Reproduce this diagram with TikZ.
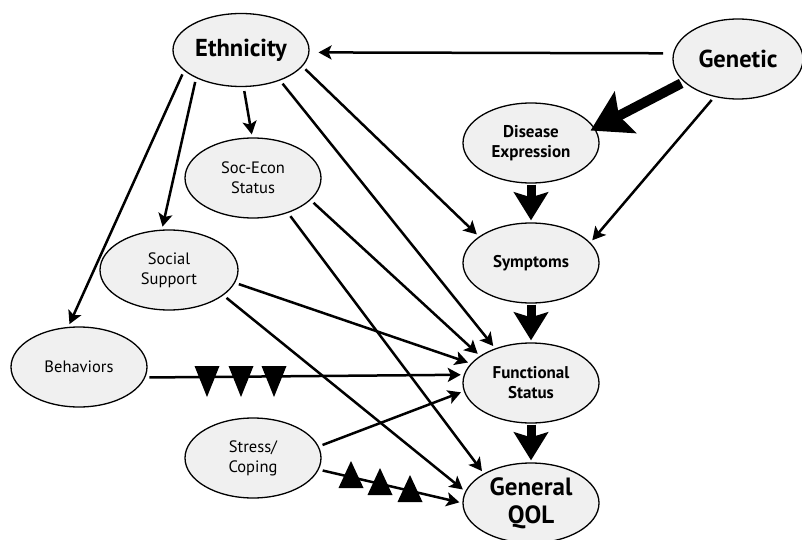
\documentclass[tikz,border=0pt]{standalone}
\usepackage{fontspec}
\setmainfont{PT Sans}
\usetikzlibrary{shapes.geometric,arrows.meta}
\begin{document}
\begin{tikzpicture}[x=1pt,y=-1pt,
  box/.style={ellipse, draw, line width=1.3pt, fill=black!6, minimum width=136pt,
    minimum height=80pt, inner sep=0pt, align=center},
  big/.style={font=\fontsize{24.5}{26}\selectfont\bfseries},
  mid/.style={font=\fontsize{17}{20}\selectfont\bfseries},
  reg/.style={font=\fontsize{16.5}{20}\selectfont},
  thinarr/.style={line width=2.5pt, -{Stealth[length=13pt,width=14pt,inset=3pt]},
    shorten <=4pt, shorten >=3pt},
  thickarr/.style={line width=9pt, -{Stealth[length=28pt,width=34pt,inset=5pt]},
    shorten <=1pt, shorten >=2pt},
  hugearr/.style={line width=10pt, -{Stealth[length=39pt,width=46pt,inset=7pt]},
    shorten <=3pt, shorten >=-5pt},
  tri/.style={fill=black}]
\useasboundingbox (0,0) rectangle (802,540);
% nodes
\node[box, big, minimum height=73pt] (E) at (241,50) {Ethnicity};
\node[box, big, minimum width=130pt] (G) at (738,59) {Genetic};
\node[box, mid] (D) at (531,143) {Disease\\Expression};
\node[box, mid] (S) at (531,263) {Symptoms};
\node[box, mid] (F) at (531,383) {Functional\\Status};
\node[box, font=\fontsize{25}{28}\selectfont\bfseries] (Q) at (531,503) {General\\QOL};
\node[box, reg] (SE) at (253,178) {Soc-Econ\\Status};
\node[box, reg, minimum width=138pt] (SS) at (169,270) {Social\\Support};
\node[box, reg] (B) at (79,367) {Behaviors};
\node[box, reg] (SC) at (253,458) {Stress/\\Coping};
% thick arrows
\draw[hugearr] (G.-157) -- (D.13);
\draw[thickarr] (D.-90) -- (S.90);
\draw[thickarr] (S.-90) -- (F.90);
\draw[thickarr] (F.-90) -- (Q.90);
% thin arrows
\draw[thinarr, shorten <=10pt, shorten >=9pt] (G.175) -- (E.-2);
\draw[thinarr] (G.-122) -- (S.19);
\draw[thinarr] (E.-160) -- (B.105);
\draw[thinarr] (E.-148) -- (SS.100);
\draw[thinarr] (E.-86) -- (SE.91);
\draw[thinarr] (E.-15) -- (S.153);
\draw[thinarr] (E.-38) -- (F.136);
\draw[thinarr] (SE.-21) -- (F.152);
\draw[thinarr] (SE.-45) -- (Q.148);
\draw[thinarr] (SS.-11) -- (F.162);
\draw[thinarr] (SS.-25) -- (Q.170);
\draw[thinarr] (B.-9) -- (F.173);
\draw[thinarr] (SC.10) -- (F.187);
\draw[thinarr] (SC.-10) -- (Q.180);
% triangles
\foreach \x in {207,241,274}
  \fill[tri] (\x-12.5,366) -- (\x+12.5,366) -- (\x,397) -- cycle;
\foreach \x/\y in {351/461,380/468,410/475}
  \fill[tri] (\x,\y) -- (\x+12.5,\y+27) -- (\x-12.5,\y+27) -- cycle;
\end{tikzpicture}
\end{document}
